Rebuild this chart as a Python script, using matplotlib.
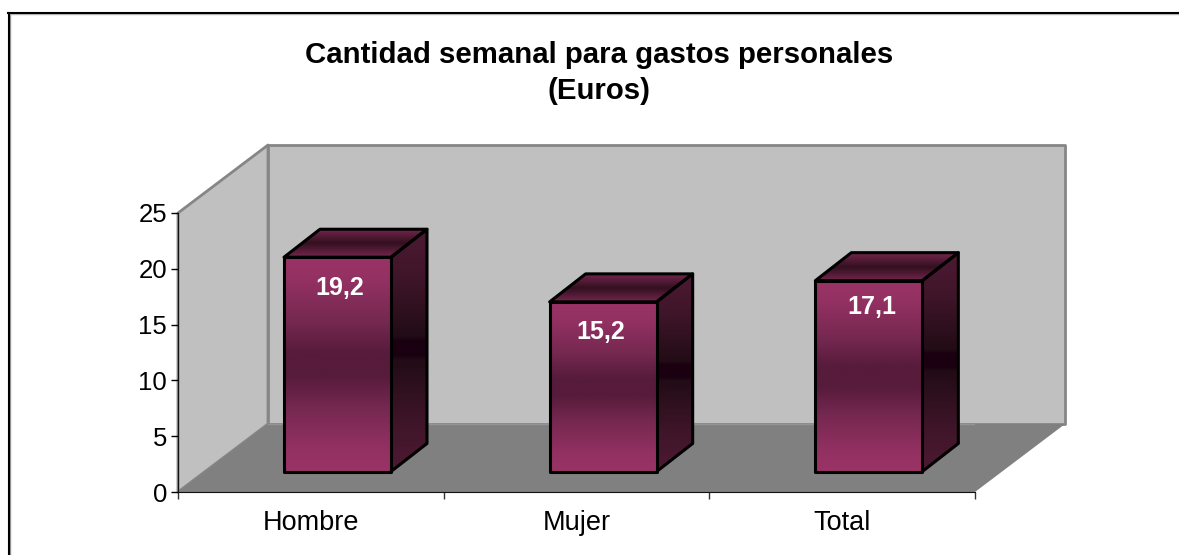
import numpy as np
import matplotlib
matplotlib.use('Agg')
import matplotlib.pyplot as plt
from matplotlib.colors import LinearSegmentedColormap
from matplotlib.lines import Line2D
from matplotlib.patches import Polygon

plt.rcParams['font.family'] = ['Liberation Sans', 'DejaVu Sans']

categories = ['Hombre', 'Mujer', 'Total']
values = [19.2, 15.2, 17.1]
labels = ['19,2', '15,2', '17,1']
y_ticks = [0, 5, 10, 15, 20, 25]

W, H = 1179, 555

front_cmap = LinearSegmentedColormap.from_list('front', [
    (0, '#9a3366'), (0.1, '#943163'), (0.3, '#752850'), (0.45, '#571b3b'), (0.55, '#571b3b'),
    (0.7, '#752850'), (0.9, '#943163'), (1, '#9a3366')])
side_cmap = LinearSegmentedColormap.from_list('side', [
    (0, '#4d1a33'), (0.2, '#3f1529'), (0.44, '#220c16'), (0.46, '#1a0010'), (0.52, '#1a0010'),
    (0.54, '#220c16'), (0.8, '#3f1529'), (1, '#4d1a33')])
top_cmap = LinearSegmentedColormap.from_list('top', ['#73264d', '#33101f', '#73264d'])
grad = np.linspace(0, 1, 256).reshape(-1, 1)

fig = plt.figure(figsize=(W / 100, H / 100), dpi=100)
fig.patch.set_facecolor('white')

# front plane of the 3d box, floor and walls are offset from it
ax = fig.add_axes([178 / W, 1 - 492 / H, (975 - 178) / W, (492 - 213) / H])
ax.patch.set_visible(False)
for s in ax.spines.values():
    s.set_visible(False)

px_x = 797 / 3
px_y = 279 / 25

# depth of the box and of the bars, in data units
dx = 90 / px_x
dy = 68 / px_y
bar_w = 107 / px_x
bar_dx = 36 / px_x
bar_dy = 28 / px_y
bar_y0 = 20.5 / px_y
bar_x0 = 106 / px_x

# label nudges, the original placed them a bit unevenly
nudge_x = [2, -2, 3]
nudge_y = [31, 30, 26]


def face(pts, fc, ec, lw, z):
    p = Polygon(pts, closed=True, fc=fc, ec=ec, lw=lw, zorder=z, clip_on=False, joinstyle='round')
    ax.add_patch(p)
    return p


def grad_face(pts, cmap, z):
    xs = [p[0] for p in pts]
    ys = [p[1] for p in pts]
    im = ax.imshow(grad, cmap=cmap, vmin=0, vmax=1, aspect='auto', zorder=z,
                   extent=[min(xs), max(xs), min(ys), max(ys)], origin='upper')
    clip = Polygon(pts, closed=True, transform=ax.transData, fc='none', ec='none')
    ax.add_patch(clip)
    im.set_clip_path(clip)
    face(pts, 'none', 'black', 2.2, z + 0.5)


# walls and floor
face([(0, 0), (dx, dy), (dx, 25 + dy), (0, 25)], '#c0c0c0', '#868686', 2, 1)
face([(dx, dy), (3 + dx, dy), (3 + dx, 25 + dy), (dx, 25 + dy)], '#c0c0c0', '#868686', 2, 1)
face([(0, 0), (3, 0), (3 + dx, dy), (dx, dy)], '#808080', 'none', 0, 2)
ax.plot([dx, 3 + dx], [dy, dy], color='#949494', lw=1, zorder=2)
ax.plot([3, 3 + dx], [0, dy], color='#868686', lw=1.2, zorder=2)

# bars
for i, (v, lab) in enumerate(zip(values, labels)):
    x0 = i + bar_x0
    x1 = x0 + bar_w
    y0 = bar_y0
    y1 = bar_y0 + v
    grad_face([(x1, y0), (x1 + bar_dx, y0 + bar_dy), (x1 + bar_dx, y1 + bar_dy), (x1, y1)], side_cmap, 3)
    grad_face([(x0, y1), (x1, y1), (x1 + bar_dx, y1 + bar_dy), (x0 + bar_dx, y1 + bar_dy)], top_cmap, 3)
    grad_face([(x0, y0), (x1, y0), (x1, y1), (x0, y1)], front_cmap, 4)
    ax.text((x0 + x1) / 2 + nudge_x[i] / px_x, y1 - nudge_y[i] / px_y, lab, color='white',
            fontsize=18, fontweight='bold', ha='center', va='center', zorder=6)

ax.set_xlim(0, 3)
ax.set_ylim(0, 25)

ax.spines['left'].set_visible(True)
ax.spines['bottom'].set_visible(True)
ax.spines['left'].set_zorder(7)
ax.spines['bottom'].set_zorder(7)
ax.spines['left'].set_color('#111111')
ax.spines['bottom'].set_color('#111111')
ax.set_yticks(y_ticks)
ax.set_yticklabels([str(t) for t in y_ticks], fontsize=18.5)
ax.set_xticks([0, 1, 2, 3])
ax.set_xticklabels([])
ax.set_xticks([0.5, 1.5, 2.5], labels=categories, minor=True, fontsize=19.5)
ax.tick_params(axis='x', which='minor', length=0, pad=13)
ax.tick_params(axis='x', which='major', length=5, width=1, color='#333333')
ax.tick_params(axis='y', length=5, width=1, pad=3)

fig.text(599 / W, 1 - 55 / H, 'Cantidad semanal para gastos personales', fontsize=21.2,
         fontweight='bold', ha='center', va='center')
fig.text(599 / W, 1 - 91 / H, '(Euros)', fontsize=21.2, fontweight='bold', ha='center', va='center')

# chart area frame, only top and left are inside the picture
frame = [([10, 10], [555, 14], '#999999', 1), ([10, 1179], [14, 14], '#bbbbbb', 1),
         ([8.5, 8.5], [555, 12.5], '#000000', 1.5), ([8, 1179], [12.5, 12.5], '#000000', 1.5)]
for xs, ys, col, lw in frame:
    fig.add_artist(Line2D([x / W for x in xs], [1 - y / H for y in ys], transform=fig.transFigure,
                          color=col, lw=lw))

fig.savefig('out.png', dpi=100)
